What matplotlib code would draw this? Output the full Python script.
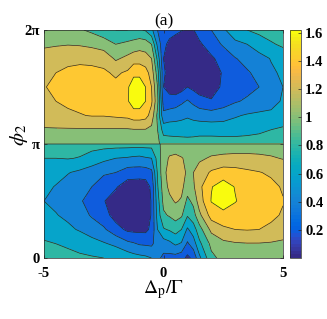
import numpy as np
import matplotlib
matplotlib.use("Agg")
import matplotlib.pyplot as plt
from matplotlib.colors import ListedColormap, Normalize
from matplotlib.cm import ScalarMappable

plt.rcParams['mathtext.fontset'] = 'stix'
plt.rcParams['font.family'] = ['Liberation Serif', 'DejaVu Serif']

# MATLAB parula colormap (64 entries)
PARULA = [
    [0.2081, 0.1663, 0.5292], [0.2116, 0.1898, 0.5777], [0.2123, 0.2138, 0.6270], [0.2081, 0.2386, 0.6771],
    [0.1959, 0.2645, 0.7279], [0.1707, 0.2919, 0.7792], [0.1253, 0.3242, 0.8303], [0.0591, 0.3598, 0.8683],
    [0.0117, 0.3875, 0.8820], [0.0060, 0.4086, 0.8828], [0.0165, 0.4266, 0.8786], [0.0329, 0.4430, 0.8720],
    [0.0498, 0.4586, 0.8641], [0.0629, 0.4737, 0.8554], [0.0723, 0.4887, 0.8467], [0.0779, 0.5040, 0.8384],
    [0.0793, 0.5200, 0.8312], [0.0749, 0.5375, 0.8263], [0.0641, 0.5570, 0.8240], [0.0488, 0.5772, 0.8228],
    [0.0343, 0.5966, 0.8199], [0.0265, 0.6137, 0.8135], [0.0239, 0.6287, 0.8038], [0.0231, 0.6418, 0.7913],
    [0.0228, 0.6535, 0.7768], [0.0267, 0.6642, 0.7607], [0.0384, 0.6743, 0.7436], [0.0590, 0.6838, 0.7254],
    [0.0843, 0.6928, 0.7062], [0.1133, 0.7015, 0.6859], [0.1453, 0.7098, 0.6646], [0.1801, 0.7177, 0.6424],
    [0.2178, 0.7250, 0.6193], [0.2586, 0.7317, 0.5954], [0.3022, 0.7376, 0.5712], [0.3482, 0.7424, 0.5473],
    [0.3953, 0.7459, 0.5244], [0.4420, 0.7481, 0.5033], [0.4871, 0.7491, 0.4840], [0.5300, 0.7491, 0.4661],
    [0.5709, 0.7485, 0.4494], [0.6099, 0.7473, 0.4337], [0.6473, 0.7456, 0.4188], [0.6834, 0.7435, 0.4044],
    [0.7184, 0.7411, 0.3905], [0.7525, 0.7384, 0.3768], [0.7858, 0.7356, 0.3633], [0.8185, 0.7327, 0.3498],
    [0.8507, 0.7299, 0.3360], [0.8824, 0.7274, 0.3217], [0.9139, 0.7258, 0.3063], [0.9450, 0.7261, 0.2886],
    [0.9739, 0.7314, 0.2666], [0.9938, 0.7455, 0.2403], [0.9990, 0.7653, 0.2164], [0.9955, 0.7861, 0.1967],
    [0.9880, 0.8066, 0.1794], [0.9789, 0.8271, 0.1633], [0.9697, 0.8481, 0.1475], [0.9626, 0.8705, 0.1309],
    [0.9589, 0.8949, 0.1132], [0.9598, 0.9218, 0.0948], [0.9661, 0.9514, 0.0755], [0.9763, 0.9831, 0.0538],
]
parula = ListedColormap(PARULA, name='parula')

# ---- data ----
x_vals = [-5, -4.5, -4, -3.5, -3, -2.5, -2, -1.5, -1.25, -1, -0.75, -0.5, -0.25,
          0, 0.25, 0.5, 0.75, 1, 1.25, 1.5, 2, 2.5, 3, 3.5, 4, 4.5, 5]

# phi in units of pi, lower half (0..pi) and upper half (pi..2pi)
phi_lower = [0, 0.125, 0.25, 0.375, 0.5, 0.625, 0.75, 0.875, 1.0]
phi_upper = [1.0, 1.125, 1.25, 1.375, 1.5, 1.625, 1.75, 1.875, 2.0]

z_lower = [
    [0.86, 0.85, 0.84, 0.83, 0.82, 0.80, 0.76, 0.72, 0.68, 0.66, 0.64, 0.60, 0.45, 0.35, 0.33, 0.32, 0.28, 0.15, 0.25, 0.55, 0.95, 1.06, 1.10, 1.11, 1.12, 1.12, 1.12],
    [0.82, 0.80, 0.78, 0.74, 0.68, 0.62, 0.56, 0.45, 0.42, 0.38, 0.37, 0.36, 0.50, 0.50, 0.55, 0.63, 0.58, 0.37, 0.50, 0.75, 1.05, 1.15, 1.18, 1.19, 1.19, 1.18, 1.17],
    [0.74, 0.70, 0.64, 0.58, 0.50, 0.43, 0.28, 0.16, 0.15, 0.15, 0.15, 0.25, 0.60, 0.78, 0.82, 0.88, 0.80, 0.57, 0.70, 0.92, 1.25, 1.36, 1.40, 1.41, 1.40, 1.36, 1.28],
    [0.65, 0.61, 0.56, 0.48, 0.38, 0.28, 0.12, 0.06, 0.05, 0.05, 0.06, 0.22, 0.68, 0.97, 1.02, 1.08, 1.03, 0.82, 0.92, 1.15, 1.48, 1.53, 1.52, 1.49, 1.47, 1.44, 1.38],
    [0.60, 0.56, 0.50, 0.42, 0.33, 0.21, 0.11, 0.04, 0.03, 0.03, 0.04, 0.22, 0.72, 1.05, 1.15, 1.22, 1.18, 0.95, 1.05, 1.30, 1.61, 1.72, 1.61, 1.53, 1.49, 1.46, 1.41],
    [0.64, 0.59, 0.53, 0.45, 0.40, 0.28, 0.22, 0.10, 0.09, 0.08, 0.10, 0.24, 0.78, 1.10, 1.25, 1.30, 1.25, 1.10, 1.17, 1.35, 1.59, 1.69, 1.59, 1.51, 1.48, 1.45, 1.38],
    [0.72, 0.66, 0.61, 0.56, 0.50, 0.43, 0.40, 0.30, 0.30, 0.30, 0.30, 0.35, 0.82, 1.15, 1.27, 1.32, 1.27, 1.17, 1.20, 1.28, 1.43, 1.50, 1.48, 1.44, 1.41, 1.37, 1.32],
    [0.80, 0.80, 0.81, 0.79, 0.72, 0.65, 0.60, 0.58, 0.56, 0.55, 0.58, 0.60, 0.87, 1.12, 1.22, 1.24, 1.21, 1.17, 1.16, 1.17, 1.22, 1.24, 1.25, 1.25, 1.24, 1.22, 1.19],
    [0.88, 0.88, 0.88, 0.88, 0.88, 0.88, 0.88, 0.88, 0.88, 0.88, 0.88, 0.88, 0.92, 1.10, 1.10, 1.10, 1.10, 1.10, 1.10, 1.10, 1.10, 1.10, 1.10, 1.10, 1.10, 1.10, 1.10],
]
z_upper = [
    [1.10, 1.10, 1.10, 1.10, 1.10, 1.10, 1.10, 1.10, 1.10, 1.10, 1.10, 1.10, 1.04, 0.92, 0.90, 0.90, 0.90, 0.90, 0.90, 0.90, 0.90, 0.90, 0.90, 0.90, 0.90, 0.90, 0.90],
    [1.18, 1.18, 1.18, 1.18, 1.18, 1.18, 1.18, 1.18, 1.19, 1.19, 1.19, 1.15, 1.00, 0.72, 0.72, 0.71, 0.70, 0.69, 0.70, 0.72, 0.72, 0.71, 0.71, 0.73, 0.76, 0.80, 0.84],
    [1.31, 1.34, 1.37, 1.39, 1.41, 1.41, 1.43, 1.45, 1.50, 1.50, 1.47, 1.32, 0.95, 0.45, 0.50, 0.52, 0.55, 0.58, 0.55, 0.52, 0.50, 0.52, 0.58, 0.62, 0.64, 0.64, 0.65],
    [1.36, 1.40, 1.43, 1.45, 1.46, 1.46, 1.46, 1.58, 1.71, 1.71, 1.60, 1.43, 1.05, 0.30, 0.28, 0.30, 0.36, 0.42, 0.35, 0.28, 0.22, 0.30, 0.38, 0.43, 0.48, 0.54, 0.62],
    [1.39, 1.44, 1.46, 1.48, 1.48, 1.47, 1.45, 1.58, 1.69, 1.69, 1.60, 1.40, 1.00, 0.20, 0.12, 0.08, 0.12, 0.20, 0.15, 0.10, 0.10, 0.24, 0.30, 0.34, 0.40, 0.50, 0.60],
    [1.34, 1.40, 1.43, 1.44, 1.44, 1.43, 1.37, 1.43, 1.56, 1.56, 1.48, 1.31, 0.90, 0.25, 0.08, 0.03, 0.03, 0.03, 0.03, 0.04, 0.10, 0.22, 0.30, 0.38, 0.45, 0.57, 0.63],
    [1.28, 1.32, 1.36, 1.37, 1.36, 1.33, 1.17, 1.25, 1.30, 1.30, 1.28, 1.20, 0.75, 0.20, 0.10, 0.05, 0.04, 0.04, 0.05, 0.08, 0.16, 0.30, 0.39, 0.46, 0.53, 0.61, 0.70],
    [1.17, 1.18, 1.19, 1.18, 1.15, 1.10, 1.00, 1.05, 1.08, 1.12, 1.10, 1.00, 0.55, 0.25, 0.15, 0.10, 0.08, 0.08, 0.10, 0.16, 0.32, 0.42, 0.55, 0.60, 0.70, 0.78, 0.83],
    [1.12, 1.10, 1.07, 1.02, 0.96, 0.88, 0.80, 0.80, 0.82, 0.82, 0.78, 0.65, 0.40, 0.30, 0.28, 0.25, 0.21, 0.18, 0.19, 0.30, 0.40, 0.57, 0.72, 0.80, 0.85, 0.88, 0.90],
]

levels = [0.2, 0.4, 0.6, 0.8, 1.0, 1.2, 1.4, 1.6]
cbar_ticks = [0.2, 0.4, 0.6, 0.8, 1.0, 1.2, 1.4, 1.6]
cbar_labels = ['0.2', '0.4', '0.6', '0.8', '1', '1.2', '1.4', '1.6']
clim = (0.0, 1.62)

# ---- build grid ----
phi_up = np.array(phi_upper, dtype=float)
phi_up[0] += 1e-4
phi = np.concatenate([np.array(phi_lower, dtype=float), phi_up]) * np.pi
Z = np.vstack([np.array(z_lower), np.array(z_upper)])
X, PHI = np.meshgrid(np.array(x_vals, dtype=float), phi)

norm = Normalize(*clim)
band_lows = [clim[0]] + levels
band_colors = [parula(norm(v)) for v in band_lows]
fill_levels = [-10.0] + levels + [10.0]

fig = plt.figure(figsize=(3.27, 3.19), dpi=100)
ax = fig.add_axes([44 / 327, 61 / 319, 239 / 327, 228 / 319])
cax = fig.add_axes([290 / 327, 61 / 319, 11 / 327, 228 / 319])

ax.contourf(X, PHI, Z, levels=fill_levels, colors=band_colors)
ax.contour(X, PHI, Z, levels=levels, colors='#2a2a2a', linewidths=0.5)

ax.set_xlim(-5, 5)
ax.set_ylim(0, 2 * np.pi)
ax.set_xticks([-5, 0, 5])
ax.set_xticklabels(['-5', '0', '5'])
ax.set_yticks([0, np.pi, 2 * np.pi])
ax.set_yticklabels(['0', 'π', '2π'])
for lab in ax.get_xticklabels() + ax.get_yticklabels():
    lab.set_fontweight('bold')
    lab.set_fontsize(10.5)
ax.tick_params(direction='in', length=2.5, width=0.5, color='#262626', pad=3,
               top=True, right=True)
ax.tick_params(axis='x', pad=6.5)
for sp in ax.spines.values():
    sp.set_linewidth(0.5)
    sp.set_color('#262626')

ax.set_xlabel(r'$\Delta_\mathrm{p}/\Gamma$', fontsize=14)
ax.set_ylabel(r'$\phi_2$', fontsize=15)
ax.xaxis.set_label_coords(0.5, -0.09)
ax.yaxis.set_label_coords(-0.057, 0.54)
ax.set_title('(a)', fontsize=12.5, pad=3)

sm = ScalarMappable(norm=norm, cmap=parula)
cb = fig.colorbar(sm, cax=cax, ticks=cbar_ticks)
cb.ax.set_yticklabels(cbar_labels)
for lab in cb.ax.get_yticklabels():
    lab.set_fontweight('bold')
    lab.set_fontsize(10.5)
cb.ax.tick_params(direction='in', length=2.5, width=0.5, color='#262626', pad=3)
cb.outline.set_linewidth(0.5)
cb.outline.set_edgecolor('#262626')

fig.savefig('out.png', dpi=100)
